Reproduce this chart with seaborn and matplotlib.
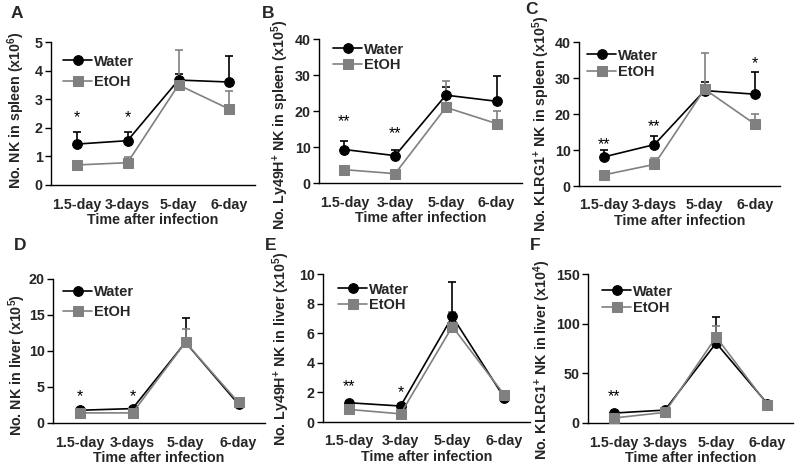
import matplotlib
matplotlib.use("Agg")
import matplotlib.pyplot as plt
import seaborn as sns
import numpy as np
import pandas as pd

sns.set_theme(style="white")
plt.rcParams['font.family'] = ['Liberation Sans', 'DejaVu Sans']
plt.rcParams['font.weight'] = 'bold'
plt.rcParams['mathtext.fontset'] = 'custom'
plt.rcParams['mathtext.rm'] = 'Liberation Sans:bold'
plt.rcParams['mathtext.bf'] = 'Liberation Sans:bold'
plt.rcParams['mathtext.default'] = 'bf'

# ---------------- data ----------------
days_a = ["1.5-day", "3-days", "5-day", "6-day"]
days_b = ["1.5-day", "3-day", "5-day", "6-day"]

a_water = [1.43, 1.55, 3.67, 3.60]
a_water_err = [0.41, 0.29, 0.20, 0.90]
a_etoh = [0.70, 0.78, 3.50, 2.65]
a_etoh_err = [0.03, 0.19, 1.21, 0.62]

b_water = [9.3, 7.6, 24.4, 22.7]
b_water_err = [2.4, 1.7, 2.2, 7.1]
b_etoh = [3.7, 2.6, 21.0, 16.5]
b_etoh_err = [0.2, 0.2, 7.2, 3.4]

c_water = [8.1, 11.5, 26.5, 25.5]
c_water_err = [1.85, 2.5, 2.3, 6.3]
c_etoh = [3.1, 6.0, 26.9, 17.2]
c_etoh_err = [0.3, 1.8, 10.0, 2.7]

d_water = [1.77, 2.0, 11.2, 2.6]
d_water_err = [0.2, 0.2, 3.4, 0.3]
d_etoh = [1.4, 1.4, 11.2, 2.85]
d_etoh_err = [0.2, 0.2, 1.8, 0.3]

e_water = [1.30, 1.08, 7.13, 1.65]
e_water_err = [0.05, 0.05, 2.35, 0.1]
e_etoh = [0.85, 0.55, 6.45, 1.85]
e_etoh_err = [0.05, 0.05, 0.95, 0.1]

f_water = [10.0, 13.0, 80.5, 19.5]
f_water_err = [1.0, 1.0, 26.5, 1.0]
f_etoh = [5.0, 10.7, 86.6, 18.5]
f_etoh_err = [1.0, 1.0, 11.5, 2.0]

ylabels = [
    r"No. NK in spleen (x10$^{6}$)",
    r"No. Ly49H$^{+}$ NK in spleen (x10$^{5}$)",
    r"No. KLRG1$^{+}$ NK in spleen (x10$^{5}$)",
    r"No. NK in liver (x10$^{5}$)",
    r"No. Ly49H$^{+}$ NK in liver (x10$^{5}$)",
    r"No. KLRG1$^{+}$ NK in liver (x10$^{4}$)",
]
letters = ["A", "B", "C", "D", "E", "F"]
ylims = [5, 40, 40, 20, 10, 150]
ysteps = [1, 10, 10, 5, 2, 50]
stars = [
    [(0, 2.35, "*"), (1, 2.35, "*")],
    [(0, 17.1, "**"), (1, 13.6, "**")],
    [(0, 11.6, "**"), (1, 16.5, "**"), (3, 34.1, "*")],
    [(0, 3.6, "*"), (1, 3.6, "*")],
    [(0, 2.36, "**"), (1, 2.0, "*")],
    [(0, 26.8, "**")],
]

panels = [
    (days_a, a_water, a_water_err, a_etoh, a_etoh_err),
    (days_b, b_water, b_water_err, b_etoh, b_etoh_err),
    (days_a, c_water, c_water_err, c_etoh, c_etoh_err),
    (days_a, d_water, d_water_err, d_etoh, d_etoh_err),
    (days_b, e_water, e_water_err, e_etoh, e_etoh_err),
    (days_a, f_water, f_water_err, f_etoh, f_etoh_err),
]

# layout in pixels: left, right, top, bottom
W, H = 800, 467
boxes = [
    (51, 255, 42, 185),
    (319, 522, 39, 183),
    (579, 780, 42, 186),
    (53, 265, 279, 423),
    (323, 530, 274, 422),
    (588, 793, 274, 423),
]
label_x = [27, 291, 552, 28, 292, 553]
label_y = [0.524, 0.40, 0.43, 0.40, 0.493, 0.423]
letter_pos = [(17, 14), (268, 14), (531, 9), (20, 246), (271, 246), (535, 246)]
# legend: handle start offset from left (px), first row centre below top (px), spacing
leg_dx = [12, 14, 8, 10, 15, 14]
leg_dy = [20, 11, 14, 14, 16, 18]
leg_ls = [0.44, 0.12, 0.18, 0.37, 0.12, 0.18]

GRAY = "#808080"
FS = 10.3

fig = plt.figure(figsize=(8, 4.67), dpi=100)

for i, (cats, w, we, e, ee) in enumerate(panels):
    l, r, t, b = boxes[i]
    aw, ah = r - l, b - t
    ax = fig.add_axes([l / W, 1 - b / H, aw / W, ah / H])
    x = np.arange(len(cats))
    df = pd.DataFrame({
        "x": np.concatenate([x, x]),
        "y": np.concatenate([w, e]),
        "group": ["Water"] * 4 + ["EtOH"] * 4,
    })
    ax.errorbar(x, w, yerr=[np.zeros(4), we], fmt="none", ecolor="black",
                elinewidth=1.2, capsize=3, capthick=1.2, zorder=2)
    ax.errorbar(x, e, yerr=[np.zeros(4), ee], fmt="none", ecolor=GRAY,
                elinewidth=1.2, capsize=3, capthick=1.2, zorder=2)
    sns.lineplot(data=df[df.group == "Water"], x="x", y="y", ax=ax,
                 color="black", marker="o", markersize=7, markeredgecolor="black",
                 linewidth=1.2, label="Water", zorder=3)
    sns.lineplot(data=df[df.group == "EtOH"], x="x", y="y", ax=ax,
                 color=GRAY, marker="s", markersize=6.5, markeredgecolor=GRAY,
                 linewidth=1.2, label="EtOH", zorder=4)

    ax.set_xlim(-0.5, 3.5)
    ax.set_ylim(0, ylims[i])
    yt = np.arange(0, ylims[i] + 0.001, ysteps[i])
    ax.set_yticks(yt)
    ax.set_yticklabels([f"{v:g}" for v in yt], fontsize=FS, fontweight="bold")
    ax.set_xticks(x)
    ax.set_xticklabels(cats, fontsize=FS, fontweight="bold")
    ax.set_xticks([-0.5, 0.5, 1.5, 2.5, 3.5], minor=True)
    ax.tick_params(axis="x", which="major", length=0, pad=9)
    ax.tick_params(axis="x", which="minor", length=4, width=1, direction="out", color="black")
    ax.tick_params(axis="y", length=4, width=1, direction="out", color="black", pad=2, left=True)
    for s in ["top", "right"]:
        ax.spines[s].set_visible(False)
    for s in ["left", "bottom"]:
        ax.spines[s].set_color("black")
        ax.spines[s].set_linewidth(1)
    ax.set_xlabel("Time after infection", fontsize=FS, fontweight="bold", labelpad=1)
    ax.set_ylabel(ylabels[i], fontsize=FS, fontweight="bold")
    ax.yaxis.set_label_coords((label_x[i] - l) / aw, label_y[i])

    for (sx, sy, st) in stars[i]:
        ax.text(sx, sy, st, ha="center", va="center", fontsize=11.5,
                fontweight="normal", color="black")

    ax.legend(loc="upper left",
              bbox_to_anchor=(leg_dx[i] / aw, 1 - (leg_dy[i] - 7.5) / ah),
              frameon=False, handlelength=2.0, handletextpad=0.1,
              labelspacing=leg_ls[i], borderaxespad=0, borderpad=0,
              prop={"weight": "bold", "size": 10.5})

    lx, ly = letter_pos[i]
    fig.text(lx / W, 1 - ly / H, letters[i], fontsize=12.5, fontweight="bold",
             ha="center", va="center")

fig.savefig("out.png", dpi=100)
